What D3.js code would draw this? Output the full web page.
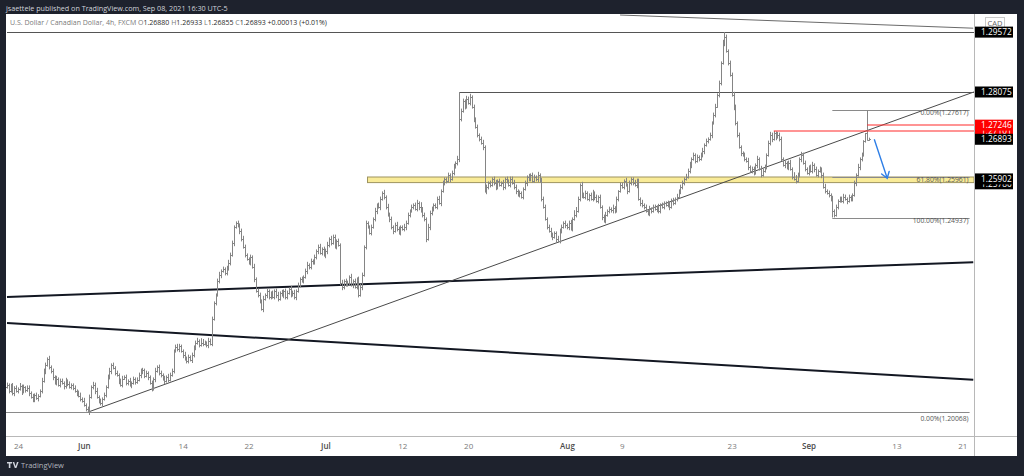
<!DOCTYPE html>
<html><head><meta charset="utf-8">
<script src="https://cdn.jsdelivr.net/npm/d3@7"></script>
<style>
html,body{margin:0;padding:0;background:#1e222d;}
svg{display:block;font-family:"Open Sans",sans-serif;}
</style></head><body>
<svg id="c" width="1024" height="476"></svg>
<script>
// ---------------- DATA ----------------
const headerText = "jsaettele published on TradingView.com, Sep 08, 2021 16:30 UTC-5";
const titleText = "U.S. Dollar / Canadian Dollar, 4h, FXCM";
const legendKeys = ["O", "H", "L", "C"];
const legendVals = ["1.26880", "1.26933", "1.26855", "1.26893"];
const legendChange = "+0.00013 (+0.01%)";

// 4h closes, in pips above 1.20000, one row per trading day (May 21 .. Sep 8)
const dayCloses = [
  [75,60,72,55,68,60],[65,72,58,70,62,68],[55,45,38,50,42,48],[60,85,110,125,140,120],
  [110,95,80,90,75,85],[80,72,85,78,70,75],[68,60,55,48,40,35],[25,15,8,45,70,75],
  [60,45,35,30,40,50],[70,95,110,125,118,105],[100,85,75,90,95,80],[85,75,80,90,82,88],
  [100,108,112,98,105,95],[80,65,90,110,120,105],[100,90,85,95,88,100],[110,160,170,165,172,160],
  [150,140,135,145,138,150],[170,180,185,175,180,178],[180,175,185,178,240,280],[300,335,350,360,365,355],
  [365,380,400,430,470,480],[475,460,440,420,400,390],[380,395,370,340,310,300],[285,265,290,300,310,295],
  [305,295,310,300,290,305],[300,310,295,305,315,300],[305,295,310,325,340,335],[345,360,375,370,385,380],
  [395,410,420,405,415,400],[410,425,440,430,445,420],[435,425,330,320,335,325],[330,345,325,335,320,340],
  [300,320,350,420,480,470],[455,470,490,510,525,520],[540,555,545,520,500,490],[470,460,475,465,455,470],
  [465,470,480,500,510,520],[525,515,530,520,510,500],[490,440,470,505,515,525],[520,540,530,560,580,590],
  [585,600,590,605,620,630],[640,740,760,785,770,790],[780,795,770,740,720,700],[690,680,670,560,570,580],
  [575,590,580,570,585,575],[580,570,590,585,575,590],[580,570,560,550,555,545],[565,580,595,590,600,585],
  [595,590,600,585,540,520],[490,470,460,450,445,455],[440,435,460,470,480,475],[470,480,465,490,500,510],
  [540,575,550,545,555,540],[550,540,555,545,535,545],[520,495,485,500,510,515],[512,518,510,540,560,575],
  [570,585,575,560,580,590],[580,575,585,540,530,525],[520,510,505,515,510,520],[515,520,510,525,520,530],
  [525,530,520,535,530,540],[545,560,570,580,590,595],[610,625,640,650,635,645],[640,650,660,675,685,690],
  [700,730,750,770,800,830],[880,930,945,910,880,850],[800,770,730,700,670,655],[650,640,635,620,610,615],
  [605,625,640,615,600,610],[620,650,680,700,690,705],[695,700,690,640,625,630],[620,630,615,595,590,585],
  [600,640,650,630,615,605],[620,610,625,615,600,610],[615,600,570,560,555,550],[540,510,500,520,535,540],
  [535,545,540,535,545,540],[550,580,600,620,640,650],[685,705,688,689.3]
];
const firstOpenPips = 70;
// wick sizes beyond the open/close range, in units of 2 pips, one digit per bar
const wickUp = "323423 242313 324232 243324 232423 324232 232342 423324 342323 234232 323423 242323 343232 232423 324243 323432 243323 234265 324332 234232 443322 323432 232423 324232 232342 423324 342323 234232 323423 342433 232423 324232 343232 232423 324243 323432 243323 234265 324332 234232 232342 423324 342323 234232 323423 242323 343232 232423 324243 323432 243323 234265 324332 234232 323423 242313 324232 243324 232423 324232 232342 423324 342323 234232 323423 242323 343232 232423 324243 323432 243323 234265 324332 234232 323423 242323 343232 232423 1000";
const wickDn = "232342 324232 423324 232423 342323 243323 324232 232423 423342 323423 242313 324232 243324 232423 324232 232342 423324 342323 234232 323423 323242 343232 232423 324243 323432 243323 234232 324332 234232 443322 323432 232423 324232 232342 423324 342323 234232 323423 342433 232423 324232 343232 232423 324243 323432 243323 234232 324332 234232 232342 423324 342323 234232 323423 242323 343232 232423 324243 323432 243323 234232 324332 234232 323423 242313 324232 243324 232423 324232 232342 423324 342323 234232 323423 242323 343232 232423 324243 2210";
// exact extremes
const highOverrideBar = [247, 392, 419, 470, 471];
const highOverrideVal = [1.28075, 1.29572, 1.27101, 1.27617, 1.26933];
const lowOverrideBar = [44, 451, 471];
const lowOverrideVal = [1.20068, 1.24937, 1.26855];

const priceTicks = [1.30, 1.29, 1.25, 1.24, 1.23, 1.224, 1.218, 1.212, 1.206, 1.20];
const timeTickBars = [6, 42, 96, 132, 174, 216, 252, 306, 336, 396, 438, 486, 522];
const timeTickLabels = ["24", "Jun", "14", "22", "Jul", "12", "20", "Aug", "9", "23", "Sep", "13", "21"];
const timeTickIsMonth = [0, 1, 0, 0, 1, 0, 0, 1, 0, 0, 1, 0, 0];

// drawings (bar index, price)
const hRayBars = [0, 247];
const hRayVals = [1.29572, 1.28075];
const redRayBars = [419, 470];
const redRayVals = [1.27101, 1.27246];
const trendBars = [44, 528];
const trendVals = [1.20068, 1.2807];
const thickABars = [0, 528];
const thickAVals = [1.2295, 1.2382];
const thickBBars = [0, 528];
const thickBVals = [1.2230, 1.2088];
const topDiagBars = [335, 528];
const topDiagVals = [1.3000, 1.2967];
const zoneStartBar = 197;
const zoneVals = [1.2595, 1.2581];
const fibStartBar = 451, fibEndBar = 526;
const fibHigh = 1.27617, fibLow = 1.24937;
const fibRatios = [0, 0.618, 1];
const baseFibVal = 1.20068;
const arrowBars = [474, 481];
const arrowVals = [1.2688, 1.2592];
const badgeVals = [1.29572, 1.28075, 1.27101, 1.27246, 1.26893, 1.2578, 1.25902];
const badgeColors = ["#000", "#000", "#f00", "#f00", "#000", "#000", "#000"];

// ---------------- CHART ----------------
const svg = d3.select("#c");
const panel = {l: 6, r: 1017, t: 14, b: 456};
const plotR = 974, plotB = 436;

const x = d3.scaleLinear().domain([0, 1]).range([7, 8.83]);
const y = d3.scaleLinear().domain([1.20, 1.29]).range([415, 55]);

svg.append("rect").attr("x", panel.l).attr("y", panel.t).attr("width", panel.r - panel.l).attr("height", panel.b - panel.t).attr("fill", "#fff");

const defs = svg.append("defs");
defs.append("clipPath").attr("id", "plotClip").append("rect")
  .attr("x", panel.l).attr("y", panel.t).attr("width", plotR - panel.l).attr("height", plotB - panel.t);
defs.append("clipPath").attr("id", "axisClip").append("rect")
  .attr("x", plotR).attr("y", panel.t).attr("width", panel.r - plotR).attr("height", plotB - panel.t);

const g = svg.append("g").attr("clip-path", "url(#plotClip)");

// bars data
const closes = dayCloses.flat().map(q => 1.2 + q / 10000);
const wu = wickUp.replace(/\s/g, ""), wd = wickDn.replace(/\s/g, "");
const bars = closes.map((c, i) => {
  const o = i ? closes[i - 1] : 1.2 + firstOpenPips / 10000;
  let h = Math.max(o, c) + (+wu[i] || 0) * 0.0002;
  let l = Math.min(o, c) - (+wd[i] || 0) * 0.0002;
  const hi = highOverrideBar.indexOf(i); if (hi >= 0) h = highOverrideVal[hi];
  const li = lowOverrideBar.indexOf(i); if (li >= 0) l = lowOverrideVal[li];
  return {i, o, h, l, c};
});
const px = i => Math.round(x(i)) + 0.5;

// zone
g.append("rect").attr("x", x(zoneStartBar)).attr("y", y(zoneVals[0]))
  .attr("width", plotR - x(zoneStartBar)).attr("height", y(zoneVals[1]) - y(zoneVals[0]))
  .attr("fill", "#f9eb98").attr("stroke", "#9e9460").attr("stroke-width", 1);

const line2 = (bs, vs) => [[x(bs[0]), y(vs[0])], [x(bs[1]), y(vs[1])]];
const extend = (pts) => { const [[x1,y1],[x2,y2]] = pts; const s = (y2-y1)/(x2-x1); return [[x1,y1],[plotR+40, y1 + s*(plotR+40-x1)]]; };
const lg = d3.line();
g.append("path").attr("d", lg(line2(thickABars, thickAVals))).attr("stroke", "#131722").attr("stroke-width", 2).attr("fill", "none");
g.append("path").attr("d", lg(line2(thickBBars, thickBVals))).attr("stroke", "#131722").attr("stroke-width", 2).attr("fill", "none");
g.append("path").attr("d", lg(extend(line2(trendBars, trendVals)))).attr("stroke", "#4a4a4a").attr("stroke-width", 1).attr("fill", "none");
g.append("path").attr("d", lg(line2(topDiagBars, topDiagVals))).attr("stroke", "#6a6a6a").attr("stroke-width", 1).attr("fill", "none");

hRayBars.forEach((b, k) => {
  const yy = Math.round(y(hRayVals[k])) + 0.5;
  g.append("line").attr("x1", x(b)).attr("x2", plotR).attr("y1", yy).attr("y2", yy).attr("stroke", "#555").attr("stroke-width", 1);
});

// fib lines
fibRatios.forEach(r => {
  const v = fibHigh - r * (fibHigh - fibLow);
  const yy = Math.round(y(v)) + 0.5;
  g.append("line").attr("x1", x(fibStartBar)).attr("x2", x(fibEndBar)).attr("y1", yy).attr("y2", yy).attr("stroke", "#8a8a8a").attr("stroke-width", 1);
  g.append("text").attr("x", x(fibEndBar) - 1).attr("y", yy + 4).attr("text-anchor", "end")
    .attr("font-size", 6.8).attr("fill", "#555")
    .text(`${(r * 100).toFixed(2)}%(${v.toFixed(5)})`);
});
{
  const yy = Math.round(y(baseFibVal)) + 0.5;
  g.append("line").attr("x1", panel.l).attr("x2", x(fibEndBar)).attr("y1", yy).attr("y2", yy).attr("stroke", "#8a8a8a").attr("stroke-width", 1);
  g.append("text").attr("x", x(fibEndBar) - 1).attr("y", yy + 8).attr("text-anchor", "end")
    .attr("font-size", 6.8).attr("fill", "#555").text(`0.00%(${baseFibVal.toFixed(5)})`);
}

// OHLC bars
const barPath = bars.map(b => {
  const xx = px(b.i);
  const yh = y(b.h), yl = y(b.l), yo = Math.round(y(b.o)) + 0.5, yc = Math.round(y(b.c)) + 0.5;
  return `M${xx},${yh}V${yl}M${xx - 1.5},${yo}H${xx}M${xx},${yc}H${xx + 1.5}`;
}).join("");
g.append("path").attr("d", barPath).attr("stroke", "#858585").attr("stroke-width", 1).attr("fill", "none");

// red rays (on top of bars)
redRayBars.forEach((b, k) => {
  const yy = Math.round(y(redRayVals[k]));
  g.append("line").attr("x1", x(b)).attr("x2", plotR).attr("y1", yy).attr("y2", yy).attr("stroke", "#ff2a2a").attr("stroke-width", 1.1);
});

// blue arrow
{
  const x1 = x(arrowBars[0]), y1 = y(arrowVals[0]), x2 = x(arrowBars[1]), y2 = y(arrowVals[1]);
  const ang = Math.atan2(y2 - y1, x2 - x1), L = 7, sp = 0.6;
  const a1 = [x2 - L * Math.cos(ang - sp), y2 - L * Math.sin(ang - sp)];
  const a2 = [x2 - L * Math.cos(ang + sp), y2 - L * Math.sin(ang + sp)];
  g.append("path").attr("d", `M${x1},${y1}L${x2},${y2}M${a1[0]},${a1[1]}L${x2},${y2}L${a2[0]},${a2[1]}`)
    .attr("stroke", "#2f7fe6").attr("stroke-width", 1.4).attr("fill", "none").attr("stroke-linecap", "round");
}

// axes separators
svg.append("line").attr("x1", plotR + 0.5).attr("x2", plotR + 0.5).attr("y1", panel.t).attr("y2", panel.b).attr("stroke", "#b8b8b8");
svg.append("line").attr("x1", panel.l).attr("x2", panel.r).attr("y1", plotB + 0.5).attr("y2", plotB + 0.5).attr("stroke", "#b8b8b8");

// price axis
const ya = svg.append("g").attr("clip-path", "url(#axisClip)").attr("transform", `translate(${plotR},0)`)
  .call(d3.axisRight(y).tickValues(priceTicks).tickFormat(d3.format(".5f")).tickSize(0));
ya.select(".domain").remove();
ya.selectAll("text").attr("x", 7).attr("text-anchor", "start").attr("font-family", "Open Sans").attr("font-size", 8.3).attr("fill", "#6a6a6a");

// CAD label
svg.append("rect").attr("x", 985.5).attr("y", 17.5).attr("width", 19).attr("height", 11).attr("fill", "#fff").attr("stroke", "#c9c9c9");
svg.append("text").attr("x", 995).attr("y", 25.7).attr("text-anchor", "middle").attr("font-size", 7.5).attr("fill", "#666").text("CAD");

// badges
const bg = svg.append("g");
badgeVals.forEach((v, k) => {
  const cy = y(v);
  bg.append("rect").attr("x", plotR + 1).attr("y", cy - 5.5).attr("width", 38).attr("height", 11).attr("fill", badgeColors[k]);
  bg.append("text").attr("x", plotR + 7).attr("y", cy + 3).attr("font-size", 8.3).attr("fill", "#fff").text(v.toFixed(5));
});

// time axis
const xa = svg.append("g").attr("transform", `translate(0,${plotB})`)
  .call(d3.axisBottom(x).tickValues(timeTickBars).tickFormat((d, i) => timeTickLabels[i]).tickSize(0));
xa.select(".domain").remove();
xa.selectAll("text").attr("y", 13).attr("dy", 0).attr("font-family", "Open Sans").attr("font-size", 8)
  .attr("fill", (d, i) => timeTickIsMonth[i] ? "#4a4a4a" : "#7a7a7a")
  .attr("font-weight", (d, i) => timeTickIsMonth[i] ? 600 : 400);

// header + legend
svg.append("text").attr("x", 6).attr("y", 10.5).attr("font-size", 7.2).attr("fill", "#d1d4dc").text(headerText);
const lt = svg.append("text").attr("x", 10).attr("y", 25).attr("font-size", 7).attr("fill", "#7a7a7a");
lt.append("tspan").text(titleText + "  ");
legendKeys.forEach((k, i) => {
  lt.append("tspan").text(k);
  lt.append("tspan").attr("fill", "#2a2a2a").text(legendVals[i] + "  ");
});
lt.append("tspan").attr("fill", "#2a2a2a").text(legendChange);

// footer logo
const fg = svg.append("g").attr("transform", "translate(7,462)");
fg.append("path").attr("d", "M0,0H5V1.6H3.4V6H1.8V1.6H0Z M5.6,0H7.2L8.6,4.2L10,0H11.6L9.4,6H7.8Z").attr("fill", "#d1d4dc");
svg.append("text").attr("x", 21).attr("y", 468).attr("font-size", 7.5).attr("fill", "#b2b5be").text("TradingView");
</script>
</body></html>
